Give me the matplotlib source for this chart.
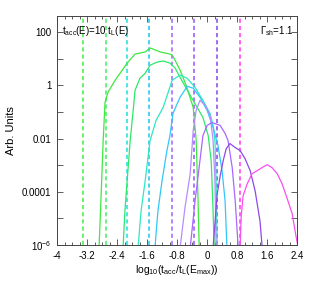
import numpy as np
import matplotlib
matplotlib.use("Agg")
import matplotlib.pyplot as plt
from matplotlib.ticker import MultipleLocator, FixedLocator

plt.rcParams['font.family'] = ['Liberation Sans', 'DejaVu Sans']
plt.rcParams['mathtext.default'] = 'regular'

# curves: x = log10(t_acc/t_L(E_max)), y stored as log10(Arb. Units)
x1 = [-2.88, -2.83, -2.77, -2.72, -2.64, -2.45, -2.13, -1.92, -1.65, -1.52, -1.25, -0.99, -0.91, -0.72, -0.56, -0.37, -0.29, -0.24, -0.21]
ly1 = [-6.1, -4.34, -2.08, -0.64, -0.26, 0.19, 0.83, 1.17, 1.25, 1.40, 1.25, 1.17, 1.09, 0.57, 0.0, -0.83, -2.08, -4.34, -6.1]

x2 = [-2.24, -2.19, -2.13, -2.05, -1.97, -1.92, -1.79, -1.65, -1.52, -1.33, -1.17, -0.99, -0.85, -0.72, -0.45, -0.11, 0.03, 0.11, 0.13, 0.16, 0.19]
ly2 = [-6.1, -4.72, -3.58, -2.08, -0.94, -0.19, 0.26, 0.45, 0.75, 0.87, 0.91, 0.83, 0.64, 0.30, -0.38, -1.21, -1.89, -2.83, -3.58, -4.72, -6.1]

x3 = [-1.84, -1.76, -1.65, -1.52, -1.36, -1.17, -0.93, -0.72, -0.53, -0.32, -0.11, 0.08, 0.16, 0.21, 0.24, 0.27]
ly3 = [-6.1, -4.72, -3.58, -2.08, -1.32, -0.83, 0.19, 0.38, 0.26, -0.08, -0.57, -1.06, -1.51, -2.08, -3.58, -6.1]

x4 = [-1.39, -1.31, -1.20, -1.07, -0.99, -0.91, -0.72, -0.53, -0.37, -0.19, 0.0, 0.16, 0.29, 0.40, 0.48, 0.53]
ly4 = [-6.1, -4.72, -3.58, -2.45, -1.89, -1.06, -0.45, -0.04, -0.11, -0.45, -0.94, -1.58, -2.26, -3.21, -4.34, -6.1]

x5 = [-0.72, -0.59, -0.45, -0.37, -0.29, -0.19, -0.05, 0.08, 0.16, 0.21, 0.24]
ly5 = [-6.1, -4.6, -3.32, -1.70, -0.94, -0.57, -0.75, -1.13, -2.08, -3.58, -6.1]

x6 = [-0.45, -0.32, -0.19, -0.11, 0.0, 0.13, 0.35, 0.48, 0.56, 0.67, 0.75, 0.83]
ly6 = [-6.1, -4.34, -2.83, -1.89, -1.51, -1.40, -1.51, -1.81, -2.08, -3.09, -4.34, -6.1]

x7 = [0.16, 0.27, 0.35, 0.43, 0.51, 0.61, 0.75, 0.88, 1.01, 1.15, 1.28, 1.41, 1.47]
ly7 = [-6.1, -4.08, -3.40, -2.83, -2.38, -2.19, -2.34, -2.45, -2.75, -3.21, -3.96, -5.09, -6.1]

x8 = [0.88, 0.91, 0.96, 1.07, 1.20, 1.33, 1.47, 1.60, 1.73, 1.87, 2.0, 2.13, 2.27, 2.37, 2.43]
ly8 = [-6.1, -4.91, -4.15, -3.70, -3.32, -3.21, -3.09, -2.98, -3.09, -3.32, -3.70, -4.23, -4.83, -5.66, -6.1]

curve_colors = ['#3ee83e', '#2ee86a', '#2ee8c0', '#30c8f8', '#b88cff', '#a868ff', '#9048e8', '#f850f0']

# dashed markers t_acc(E) = 10 t_L(E)
vline_x = [-3.30, -2.69, -2.13, -1.54, -0.94, -0.34, 0.27, 0.88]
vline_colors = ['#50f050', '#50f070', '#30e0e0', '#30c8f0', '#a870ff', '#a060ff', '#9450f0', '#ff48f0']

ytick_pos = [2, 0, -2, -4, -6]
ytick_labels = ['100', '1', '0.01', '0.0001', '10$^{-6}$']
xticks = [-4, -3.2, -2.4, -1.6, -0.8, 0, 0.8, 1.6, 2.4]

fig = plt.figure(figsize=(3.24, 2.85), dpi=100)
ax = fig.add_axes([0.176, 0.140, 0.741, 0.804])

for xv, c in zip(vline_x, vline_colors):
    ax.axvline(xv, color=c, lw=1.2, ls=(0, (2.5, 1.8)), zorder=1)

xs = [x1, x2, x3, x4, x5, x6, x7, x8]
lys = [ly1, ly2, ly3, ly4, ly5, ly6, ly7, ly8]
for xv, lv, c in zip(xs, lys, curve_colors):
    ax.plot(xv, 10.0 ** np.array(lv), color=c, lw=0.9, zorder=2)

ax.set_yscale('log')
ax.set_xlim(-4, 2.4)
ax.set_ylim(1e-6, 10 ** 2.6)

ax.set_xticks(xticks)
ax.set_xticklabels(['-4', '-3.2', '-2.4', '-1.6', '-0.8', '0', '0.8', '1.6', '2.4'])
ax.xaxis.set_minor_locator(MultipleLocator(0.2))
ax.yaxis.set_major_locator(FixedLocator([10.0 ** k for k in range(-6, 3)]))
ax.yaxis.set_minor_locator(FixedLocator([]))
ax.set_yticklabels([ytick_labels[ytick_pos.index(k)] if k in ytick_pos else '' for k in range(-6, 3)])

ax.tick_params(which='both', direction='in', top=True, right=True, labelsize=7, color='#444444')
ax.tick_params(which='major', length=4.5, width=0.6)
ax.tick_params(which='minor', length=2.2, width=0.6)
ax.tick_params(axis='x', pad=4)
ax.tick_params(axis='y', pad=4)
for s in ax.spines.values():
    s.set_linewidth(0.7)
    s.set_color('#444444')

ax.set_ylabel('Arb. Units', fontsize=8, labelpad=4)
ax.set_xlabel('log$_{10}$(t$_{acc}$/t$_L$(E$_{max}$))', fontsize=7.5, labelpad=2)

ax.text(0.02, 0.965, 't$_{acc}$(E)=10 t$_L$(E)', transform=ax.transAxes, fontsize=7, ha='left', va='top')
ax.text(0.985, 0.965, '$\\Gamma_{sh}$=1.1', transform=ax.transAxes, fontsize=7, ha='right', va='top')

fig.savefig('out.png', dpi=100)
